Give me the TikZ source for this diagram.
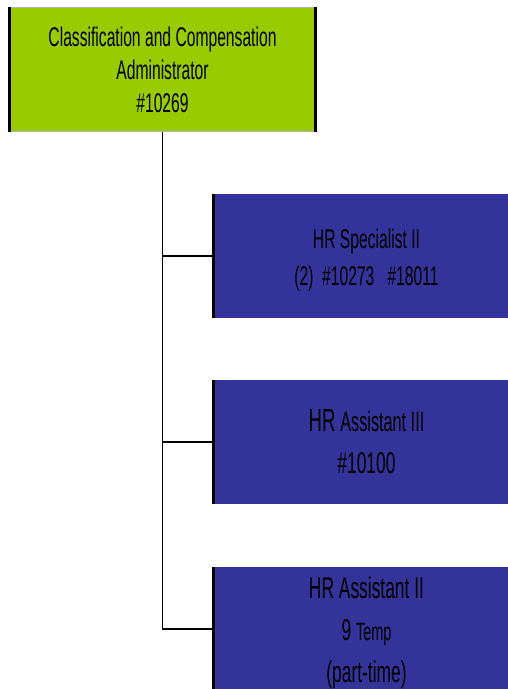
\documentclass[tikz,border=0pt]{standalone}
\usepackage{fontspec}
\setmainfont{Liberation Sans}[FakeStretch=0.58]
\definecolor{adminfill}{HTML}{99CC00}
\definecolor{staffblue}{HTML}{333399}
\begin{document}
\begin{tikzpicture}[x=1pt,y=1pt]
	\tikzstyle{every node}=[inner sep=0pt,align=center,text=black]
	\tikzstyle{adminbox}=[fill=adminfill,draw=gray!60,line width=0.8pt,minimum width=305pt,minimum height=124pt,font=\fontsize{27}{33}\selectfont]
	\tikzstyle{staffbox}=[fill=staffblue,minimum width=306pt,minimum height=124pt,font=\fontsize{30}{42}\selectfont]
	\tikzstyle{edge}=[line width=3pt,black]
	\tikzstyle{relation}=[line width=1.3pt,black]

	\clip (0,0) rectangle (508,-689);
	\fill[white] (0,0) rectangle (508,-689);

	\node[adminbox] (admin) at (162.5,-69.5) {Classification and Compensation\\Administrator\\\#10269};
	\node[staffbox,font=\fontsize{27}{37}\selectfont] (spec) at (366.5,-256) {\rule{0pt}{28pt}HR Specialist II\\(2)~~\#10273~~~\#18011};
	\node[staffbox] (asst3) at (366.5,-442) {{\fontsize{32}{42}\selectfont HR} {\fontsize{28}{42}\selectfont Assistant III}\\\#10100};
	\node[staffbox] (asst2) at (366.5,-629) {\rule{0pt}{30pt}HR Assistant II\\9 {\fontsize{25}{40}\selectfont Temp}\\(part-time)};

	\draw[relation] (admin.south) |- (spec.west);
	\draw[relation] (admin.south) |- (asst3.west);
	\draw[relation] (admin.south) |- (asst2.west);

	\draw[edge] (admin.north west) -- (admin.south west);
	\draw[edge] (admin.north east) -- (admin.south east);
	\draw[edge] (spec.north west) -- (spec.south west);
	\draw[edge] (asst3.north west) -- (asst3.south west);
	\draw[edge] (asst2.north west) -- (asst2.south west);
\end{tikzpicture}
\end{document}
